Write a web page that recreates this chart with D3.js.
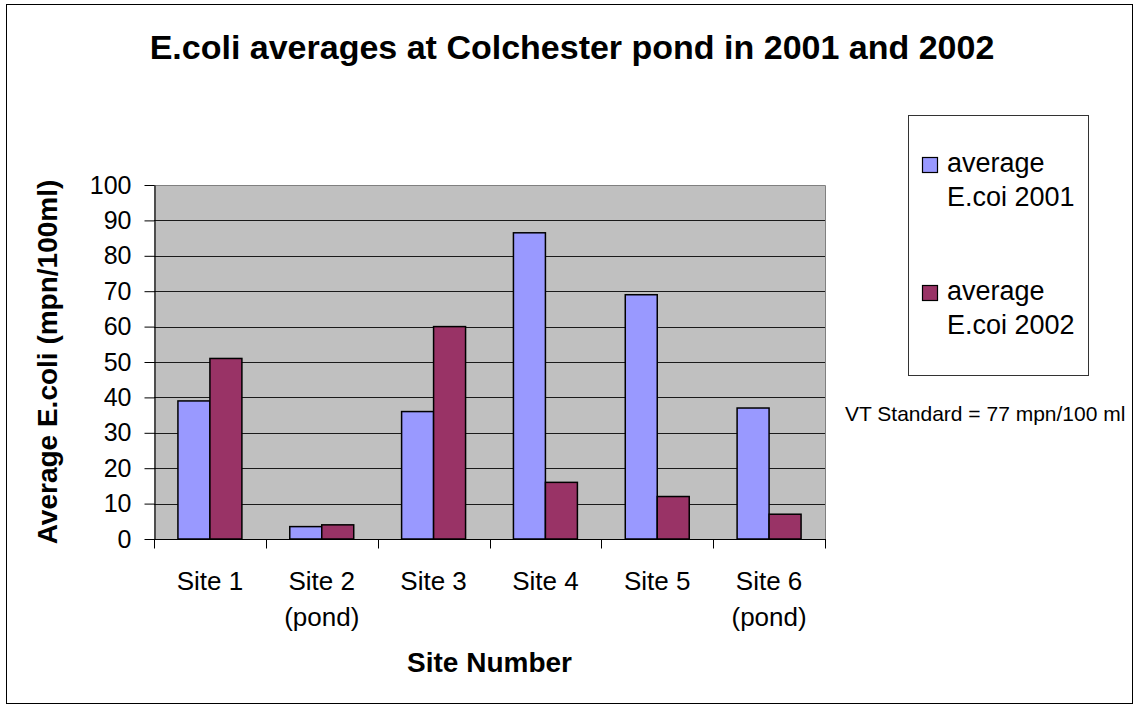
<!DOCTYPE html>
<html>
<head>
<meta charset="utf-8">
<script src="https://cdn.jsdelivr.net/npm/d3@7"></script>
<style>
  html, body { margin: 0; padding: 0; background: #fff; }
  svg { display: block; }
  text { font-family: "Liberation Sans", Arial, sans-serif; fill: #000; }
</style>
</head>
<body>
<svg id="chart" width="1137" height="708"></svg>
<script>
// ---- data ----
const sites = ["Site 1", "Site 2\n(pond)", "Site 3", "Site 4", "Site 5", "Site 6\n(pond)"];
const seriesNames = ["average E.coi 2001", "average E.coi 2002"];
const values2001 = [39, 3.5, 36, 86.5, 69, 37];
const values2002 = [51, 4, 60, 16, 12, 7];
const yTicks = [0, 10, 20, 30, 40, 50, 60, 70, 80, 90, 100];
const titleText = "E.coli averages at Colchester pond in 2001 and 2002";
const xTitle = "Site Number";
const yTitle = "Average E.coli (mpn/100ml)";
const noteText = "VT Standard = 77 mpn/100 ml";
const colors = ["#9999FF", "#993366"];

// ---- layout ----
const svg = d3.select("#chart");
const plot = { left: 154, right: 825, top: 185, bottom: 539 };

// outer frame
svg.append("rect").attr("x", 6.5).attr("y", 4.5).attr("width", 1126).attr("height", 699)
  .attr("fill", "#fff").attr("stroke", "#000").attr("stroke-width", 1);

const x0 = d3.scaleBand().domain(sites).range([plot.left, plot.right]).padding(0);
const groupFrac = 0.572;
const x1 = d3.scaleBand().domain(seriesNames)
  .range([x0.bandwidth() * (1 - groupFrac) / 2, x0.bandwidth() * (1 + groupFrac) / 2]).padding(0);
const y = d3.scaleLinear().domain([0, 100]).range([plot.bottom, plot.top]);

// plot background
svg.append("rect").attr("x", plot.left).attr("y", plot.top)
  .attr("width", plot.right - plot.left).attr("height", plot.bottom - plot.top)
  .attr("fill", "#C0C0C0");

// gridlines
svg.append("g").selectAll("line").data(yTicks.filter(d => d > 0 && d < 100)).join("line")
  .attr("x1", plot.left).attr("x2", plot.right)
  .attr("y1", d => Math.round(y(d)) + 0.5).attr("y2", d => Math.round(y(d)) + 0.5)
  .attr("stroke", "#1a1a1a").attr("stroke-width", 1);

// plot border (top/right)
svg.append("path")
  .attr("d", `M${plot.left},${plot.top + 0.5}H${plot.right + 0.5}V${plot.bottom}`)
  .attr("fill", "none").attr("stroke", "#808080").attr("stroke-width", 1);

// bars
const seriesData = [values2001, values2002];
const groups = svg.append("g").selectAll("g").data(sites).join("g")
  .attr("transform", d => `translate(${x0(d)},0)`);
groups.selectAll("rect").data((d, i) => seriesNames.map((s, k) => ({ s, k, v: seriesData[k][i] }))).join("rect")
  .attr("x", d => x1(d.s))
  .attr("width", x1.bandwidth())
  .attr("y", d => y(d.v))
  .attr("height", d => y(0) - y(d.v))
  .attr("fill", d => colors[d.k])
  .attr("stroke", "#000").attr("stroke-width", 1.5);

// y axis
const yAxis = d3.axisLeft(y).tickValues(yTicks).tickSize(10).tickSizeOuter(0).tickPadding(13);
const yg = svg.append("g").attr("transform", `translate(${plot.left + 0.5},0)`).call(yAxis);
yg.select(".domain").attr("stroke", "#000").attr("stroke-width", 1.2);
yg.selectAll(".tick line").attr("stroke", "#000");
yg.selectAll(".tick text").attr("font-size", 25).attr("font-family", "Liberation Sans, Arial, sans-serif").attr("fill", "#000");

// x axis (ticks at category boundaries)
const xg = svg.append("g").attr("transform", `translate(0,${plot.bottom + 0.5})`);
xg.append("line").attr("x1", plot.left).attr("x2", plot.right + 1).attr("stroke", "#000").attr("stroke-width", 1.2);
const bounds = sites.map(s => x0(s)).concat([x0(sites[sites.length - 1]) + x0.bandwidth()]);
xg.selectAll("line.tk").data(bounds).join("line").attr("class", "tk")
  .attr("x1", d => Math.round(d) + 0.5).attr("x2", d => Math.round(d) + 0.5)
  .attr("y1", 0).attr("y2", 9).attr("stroke", "#000");
const xl = xg.selectAll("text").data(sites).join("text")
  .attr("text-anchor", "middle").attr("font-size", 26)
  .attr("x", d => x0(d) + x0.bandwidth() / 2);
xl.selectAll("tspan").data(d => d.split("\n")).join("tspan")
  .attr("x", function () { return d3.select(this.parentNode).attr("x"); })
  .attr("y", (d, i) => 50 + i * 36)
  .text(d => d);

// titles
svg.append("text").attr("x", 572).attr("y", 59).attr("text-anchor", "middle")
  .attr("font-size", 34).attr("font-weight", "bold").text(titleText);
svg.append("text").attr("x", (plot.left + plot.right) / 2).attr("y", 672).attr("text-anchor", "middle")
  .attr("font-size", 28).attr("font-weight", "bold").text(xTitle);
svg.append("text").attr("transform", `translate(57,${(plot.top + plot.bottom) / 2}) rotate(-90)`)
  .attr("text-anchor", "middle").attr("font-size", 28).attr("font-weight", "bold").text(yTitle);

// legend
const lg = svg.append("g");
lg.append("rect").attr("x", 908.5).attr("y", 115.5).attr("width", 180).attr("height", 260)
  .attr("fill", "#fff").attr("stroke", "#333").attr("stroke-width", 1);
const legendItems = seriesNames.map((s, k) => ({ s, k, lines: ["average", s.replace("average ", "")] }));
const li = lg.selectAll("g.item").data(legendItems).join("g").attr("class", "item")
  .attr("transform", d => `translate(0,${d.k * 128})`);
li.append("rect").attr("x", 922.5).attr("y", 157.5).attr("width", 15).attr("height", 15)
  .attr("fill", d => colors[d.k]).attr("stroke", "#000").attr("stroke-width", 1.2);
li.selectAll("text").data(d => d.lines).join("text")
  .attr("x", 947).attr("y", (d, i) => 172 + i * 34)
  .attr("font-size", 27).text(d => d);

// note
svg.append("text").attr("x", 845).attr("y", 421).attr("font-size", 21).text(noteText);
</script>
</body>
</html>
